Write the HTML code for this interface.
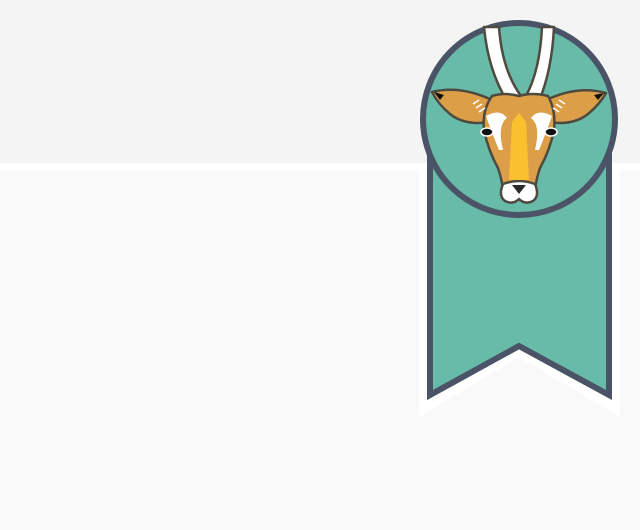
<!DOCTYPE html>
<html><head><meta charset="utf-8"><style>
html,body{margin:0;padding:0;width:640px;height:530px;overflow:hidden;background:#f8f8f8}
svg{display:block}
</style></head><body>
<svg width="640" height="530" viewBox="0 0 640 530">
<rect x="0" y="0" width="640" height="163" fill="#f4f4f4"/>
<rect x="0" y="163" width="640" height="8" fill="#ffffff"/>
<rect x="0" y="171" width="640" height="359" fill="#f9f9f9"/>
<polygon points="419,165 620,165 620,417 519,357 419,417" fill="#ffffff"/>
<polygon points="430,150 609,150 609,395 519,346 430,395" fill="#67bba8" stroke="#4b5467" stroke-width="6" stroke-linejoin="miter"/>
<circle cx="519" cy="119" r="96" fill="#67bba8" stroke="#4b5467" stroke-width="6"/>
<g stroke="#4f4a3f" stroke-width="2.5" stroke-linejoin="round">
 <path d="M484,27 L499,27 Q502,70 521,96 L507,101 Q488,70 484,27Z" fill="#ffffff"/>
 <path d="M554,27 L542,27 Q540,70 526,96 L539,101 Q552,70 554,27Z" fill="#ffffff"/>
 <path d="M432,92 Q460,85 492,100 L490,122 Q465,126 450,114 Q438,104 432,92Z" fill="#dc9f48"/>
 <path d="M606,93 Q578,85 546,100 L548,122 Q573,126 588,114 Q600,104 606,93Z" fill="#dc9f48"/>
 <path d="M492,96 Q505,92 519,96 Q533,92 548,96 Q556,110 554,130 Q550,150 540,168 Q536,180 535,190 L503,190 Q502,180 498,168 Q488,150 484,130 Q482,110 492,96Z" fill="#dc9f48"/>
 <path d="M503,184 Q519,178 535,184 Q540,196 533,201 Q525,205 519,199 Q513,205 505,201 Q498,196 503,184Z" fill="#ffffff"/>
</g>
<path d="M519,113 L526,122 L529,180 L509,180 L512,122Z" fill="#fbc02d"/>
<path d="M512,185 L526,185 L519,194Z" fill="#2b2a28"/>
<path d="M486,116 Q500,108 507,118 Q497,125 503,150 L499,150 Q490,128 486,116Z" fill="#ffffff"/>
<path d="M552,116 Q538,108 531,118 Q541,125 535,150 L539,150 Q548,128 552,116Z" fill="#ffffff"/>
<ellipse cx="487" cy="132" rx="6" ry="4" fill="#111" stroke="#fff" stroke-width="1.5"/>
<ellipse cx="551" cy="132" rx="6" ry="4" fill="#111" stroke="#fff" stroke-width="1.5"/>
<path d="M434,92 L444,95 L440,100Z" fill="#111"/>
<path d="M604,93 L594,95 L598,100Z" fill="#111"/>
<g stroke="#ffffff" stroke-width="1.5">
 <line x1="473" y1="104" x2="479" y2="100"/><line x1="476" y1="108" x2="482" y2="104"/><line x1="479" y1="112" x2="485" y2="108"/>
 <line x1="565" y1="104" x2="559" y2="100"/><line x1="562" y1="108" x2="556" y2="104"/><line x1="559" y1="112" x2="553" y2="108"/>
</g>
</svg>
</body></html>
